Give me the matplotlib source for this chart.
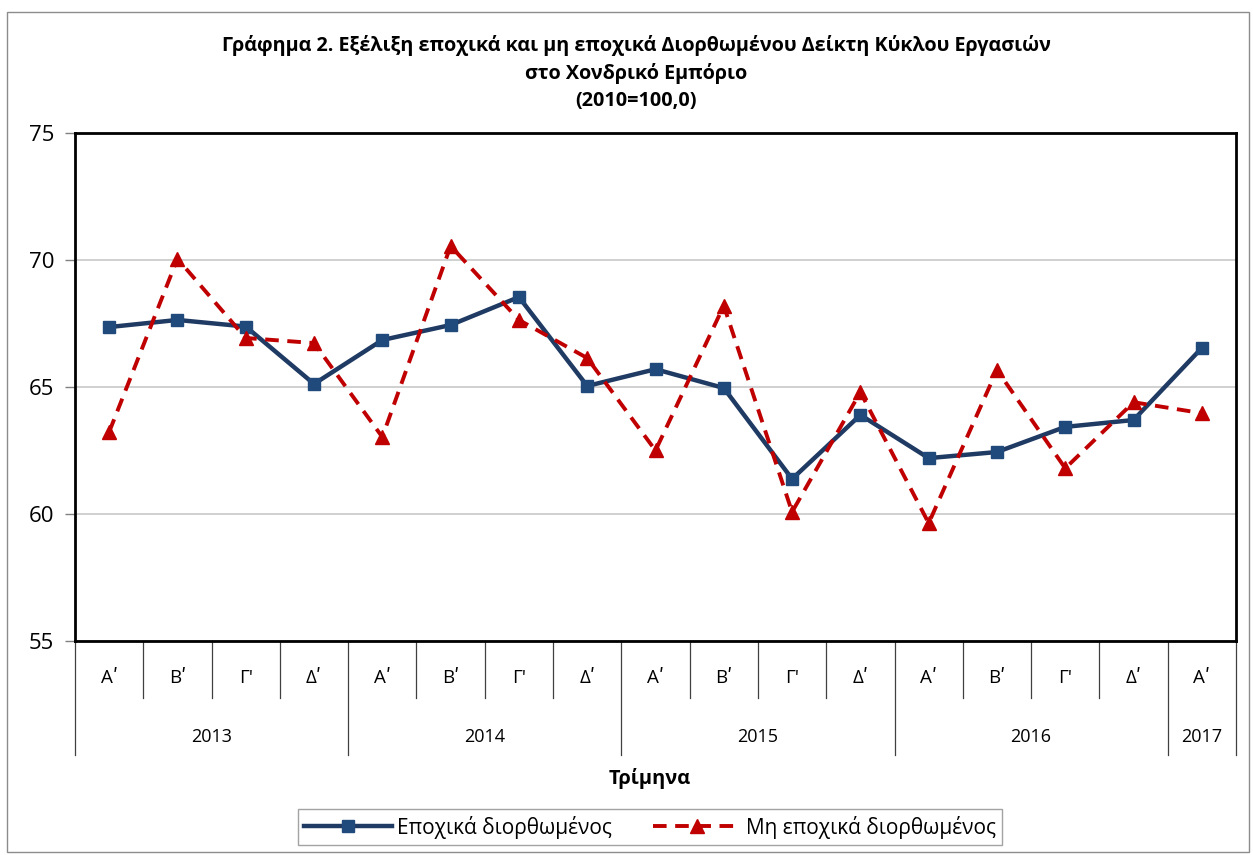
import matplotlib
matplotlib.use("Agg")
import matplotlib.pyplot as plt
from matplotlib.patches import Rectangle
import matplotlib.transforms as mtransforms

plt.rcParams['font.family'] = ['Open Sans', 'DejaVu Sans']

P = "\u0374"
quarters = ["Α" + P, "Β" + P, "Γ'", "Δ" + P, "Α" + P, "Β" + P, "Γ'", "Δ" + P,
            "Α" + P, "Β" + P, "Γ'", "Δ" + P, "Α" + P, "Β" + P, "Γ'", "Δ" + P, "Α" + P]
years = ["2013", "2014", "2015", "2016", "2017"]
year_counts = [4, 4, 4, 4, 1]

seasonal_adj = [67.36, 67.64, 67.38, 65.12, 66.85, 67.44, 68.54, 65.04, 65.70,
                64.96, 61.38, 63.90, 62.20, 62.44, 63.43, 63.70, 66.54]
non_seasonal = [63.23, 70.05, 66.93, 66.73, 63.03, 70.55, 67.64, 66.14, 62.50,
                68.20, 60.08, 64.80, 59.64, 65.67, 61.80, 64.40, 63.97]

title_lines = ["Γράφημα 2. Εξέλιξη εποχικά και μη εποχικά Διορθωμένου Δείκτη Κύκλου Εργασιών",
               "στο Χονδρικό Εμπόριο",
               "(2010=100,0)"]
xlabel = "Τρίμηνα"
label_sa = "Εποχικά διορθωμένος"
label_nsa = "Μη εποχικά διορθωμένος"

W, H = 1253, 855
fig = plt.figure(figsize=(W / 100, H / 100), dpi=100)
fig.patch.set_facecolor('white')
fig.patches.append(Rectangle((7 / W, 3 / H), (1249 - 7) / W, (852 - 12) / H,
                             transform=fig.transFigure, fill=False,
                             edgecolor='#8c8c8c', linewidth=1.0))

left, right, top, bottom = 75, 1236, 133, 641
ax = fig.add_axes([left / W, 1 - bottom / H, (right - left) / W, (bottom - top) / H])

x = list(range(len(quarters)))
l1, = ax.plot(x, seasonal_adj, color='#1F3A63', linewidth=3.2, marker='s',
              markersize=8.5, markerfacecolor='#214A7C', markeredgecolor='#214A7C',
              zorder=3, label=label_sa)
l2, = ax.plot(x, non_seasonal, color='#C00000', linewidth=2.8, linestyle=(0, (3.5, 2.2)),
              marker='^', markersize=9.5, markerfacecolor='#C00000', markeredgecolor='#C00000',
              zorder=4, label=label_nsa)

ax.set_xlim(-0.5, len(quarters) - 0.5)
ax.set_ylim(55, 75)
ax.set_yticks([55, 60, 65, 70, 75])
ax.yaxis.grid(True, color='#c8c8c8', linewidth=1.2)
ax.set_axisbelow(True)
for s in ax.spines.values():
    s.set_linewidth(2.0)
    s.set_color('black')
ax.tick_params(axis='y', length=7, width=1, color='#808080', labelsize=16, pad=8)
ax.set_xticks([])

trans = mtransforms.blended_transform_factory(ax.transData, ax.transAxes)
ph = bottom - top
q_depth = -(698 - bottom) / ph
y_depth = -(755 - bottom) / ph
q_lab = -(678 - bottom) / ph
y_lab = -(737 - bottom) / ph

year_bounds = [-0.5]
for c in year_counts:
    year_bounds.append(year_bounds[-1] + c)

for k in range(len(quarters) + 1):
    xb = k - 0.5
    depth = y_depth if xb in year_bounds else q_depth
    ax.plot([xb, xb], [0, depth], transform=trans, color='#404040', linewidth=0.9,
            clip_on=False)

for i, q in enumerate(quarters):
    ax.text(i, q_lab, q, transform=trans, ha='center', va='center', fontsize=13.5)

for j, yr in enumerate(years):
    xc = (year_bounds[j] + year_bounds[j + 1]) / 2
    ax.text(xc, y_lab, yr, transform=trans, ha='center', va='center', fontsize=13)

ys = [45, 73, 101]
for t, yy in zip(title_lines, ys):
    fig.text(636 / W, 1 - yy / H, t, ha='center', va='center', fontsize=14.2,
             fontweight='bold')

fig.text(650 / W, 1 - 778 / H, xlabel, ha='center', va='center', fontsize=14.4,
         fontweight='bold')

leg = fig.legend(handles=[l1, l2], loc='center', bbox_to_anchor=(650 / W, 1 - 827 / H),
                 ncol=2, fontsize=15, frameon=True, fancybox=False, edgecolor='#8c8c8c',
                 handlelength=4.2, columnspacing=2.0, handletextpad=0.25,
                 borderpad=0.3, borderaxespad=0.0)
leg.get_frame().set_linewidth(1.0)

fig.savefig('out.png', dpi=100, facecolor='white')
